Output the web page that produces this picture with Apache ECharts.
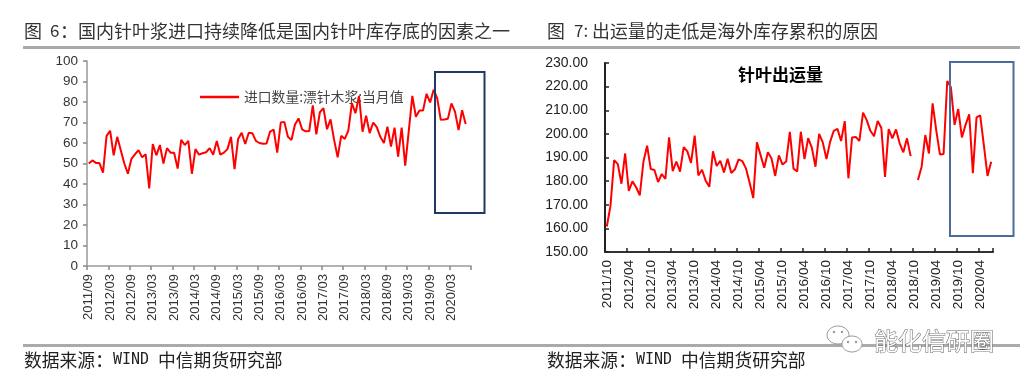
<!DOCTYPE html>
<html><head><meta charset="utf-8">
<style>html,body{margin:0;padding:0;background:#fff}#c{width:1031px;height:385px}</style>
<script src="https://cdn.jsdelivr.net/npm/echarts@6/dist/echarts.min.js"></script>
</head><body><div id="c"></div>
<script>
var importName = '进口数量:漂针木浆:当月值';
var shipName = '针叶出运量';
var importValues = [50,51.5,50.3,50.2,45.5,63.5,66,54,63,56.5,50,45,52.3,54.5,56.5,53,54.5,37.8,59.5,54,59,50,57.5,55.3,55.2,47.5,61.5,59,61,45,57,54.3,55,55.5,57.5,54.3,61,54.3,55.3,57,63,47.3,62,65,59.5,65,64.8,61,60,59.6,59.8,65.6,66.5,55.3,70,70.3,63,61.5,69,72,66.7,65.7,65.8,78.3,64.2,75,77,66.7,71.5,61.5,53,63.5,62,66,79.5,74.5,83,65.5,73.3,64.8,70,67.7,63,60,68,58.3,67.5,53.3,67.5,49,65.9,83,72.8,75.8,75.8,84,79.8,86,81.8,71.3,71.5,71.8,79.3,75.3,66.3,76,69.3,null];
var shipValues = [160.8,169.6,188.9,187.2,178.9,191.7,175.9,179.9,177.4,174,188.2,195,185.1,184.7,179.6,183,180.9,198.5,184.2,188.3,184,194.4,192.6,187.7,199.3,182.4,184.8,180.2,177.6,192.6,186.4,188.6,183.7,189.5,183.4,185,189.2,188.5,185.4,179.4,172.8,196.4,191,185.7,192.2,189.6,182.2,190.9,187,188.3,200.9,185.3,184.1,200.9,189.3,198.2,194.2,186.1,200,196.4,189.3,196.6,201.3,202.1,197,205.4,181.2,198.5,198.7,197,209,205.8,201.3,199,205.5,202.5,181.8,202,198.1,201.9,196,192.2,198.1,190.6,null,180.5,186.1,199.5,191.7,212.9,201.5,191.3,191.5,222.4,219.7,203.8,210.5,198.5,203.8,208.3,183.4,207,207.8,195.2,182.2,188.2];
function months(y, m, n) {
  var out = [];
  for (var i = 0; i < n; i++) {
    out.push(y + '/' + (m < 10 ? '0' : '') + m);
    m++; if (m > 12) { m = 1; y++; }
  }
  return out;
}
var importMonths = months(2011, 9, importValues.length);
var shipMonths = months(2011, 10, shipValues.length);

var sans = '"Noto Sans CJK SC"';
var latin = '"Liberation Sans"';
function txt(x, y, s, size, color, extra) {
  return Object.assign({type:'text', x:x, y:y, silent:true, z:5,
    style:{text:s, font:size+'px '+sans, fill:color, textVerticalAlign:'middle'}}, extra||{});
}
function foot(x) {
  return {type:'text', x:x, y:360, silent:true, z:5, style:{
    text:'{a|数据来源\uFF1A}{b|WIND }{a|中信期货研究部}', textVerticalAlign:'middle',
    rich:{a:{font:'17.8px '+sans, fill:'#222'}, b:{font:'15px "DejaVu Sans Mono"', fill:'#222'}}
  }};
}
function rule(y) {
  return {type:'line', silent:true, shape:{x1:23,y1:y,x2:1020,y2:y}, style:{stroke:'#aaaaaa', lineWidth:3}};
}
function box(x1,y1,x2,y2,c) {
  return {type:'rect', silent:true, z:6, shape:{x:x1,y:y1,width:x2-x1,height:y2-y1},
    style:{fill:'none', stroke:c, lineWidth:2}};
}
function wechat(cx,cy,rx,ry) {
  return {type:'ellipse', silent:true, z:7, shape:{cx:cx,cy:cy,rx:rx,ry:ry},
    style:{fill:'#fff', stroke:'#999', lineWidth:1}};
}
function dot(cx,cy) {
  return {type:'circle', silent:true, z:8, shape:{cx:cx,cy:cy,r:1.2}, style:{fill:'#999'}};
}

var chart = echarts.init(document.getElementById('c'));
chart.setOption({
  animation:false,
  backgroundColor:'#fff',
  title:[{text:shipName, left:738, top:66, padding:0, textStyle:{fontFamily:sans, fontSize:17, fontWeight:'bold', color:'#000'}}],
  legend:{data:[{name:importName, icon:'rect'}], left:200, top:90, padding:0, itemWidth:39, itemHeight:2.5, itemGap:2,
    textStyle:{fontFamily:sans, fontSize:13.8, color:'#444', padding:0}},
  grid:[
    {left:87, width:384, top:61, height:205, containLabel:false},
    {left:605, width:388, top:63, height:189, containLabel:false}
  ],
  xAxis:[
    {type:'category', gridIndex:0, data:importMonths, boundaryGap:true,
     axisLine:{lineStyle:{color:'#999', width:1.5}},
     axisTick:{show:true, interval:5, length:4, lineStyle:{color:'#888', width:1.5}},
     axisLabel:{interval:5, rotate:90, margin:8, fontFamily:latin, fontSize:13, color:'#333'}},
    {type:'category', gridIndex:1, data:shipMonths, boundaryGap:true,
     axisLine:{lineStyle:{color:'#333', width:2}},
     axisTick:{show:true, interval:5, inside:true, length:4, lineStyle:{color:'#222', width:1.5}},
     axisLabel:{interval:5, rotate:90, margin:8, fontFamily:latin, fontSize:13.6, color:'#222'}}
  ],
  yAxis:[
    {type:'value', gridIndex:0, min:0, max:100, interval:10, splitLine:{show:false},
     axisLine:{show:true, lineStyle:{color:'#999', width:1.5}},
     axisTick:{show:true, length:4, lineStyle:{color:'#888', width:1.5}},
     axisLabel:{margin:9, fontFamily:latin, fontSize:13.5, color:'#333'}},
    {type:'value', gridIndex:1, min:150, max:230, interval:10, splitLine:{show:false},
     axisLine:{show:true, lineStyle:{color:'#222', width:2}},
     axisTick:{show:true, inside:true, length:4, lineStyle:{color:'#222', width:1.5}},
     axisLabel:{margin:17, fontFamily:latin, fontSize:14, color:'#222', formatter:function(v){return v.toFixed(2);}}}
  ],
  series:[
    {name:importName, type:'line', xAxisIndex:0, yAxisIndex:0, data:importValues, showSymbol:false, symbol:'none',
     lineStyle:{color:'#ff0000', width:2}, itemStyle:{color:'#ff0000'}},
    {name:shipName, type:'line', xAxisIndex:1, yAxisIndex:1, data:shipValues, showSymbol:false, symbol:'none', connectNulls:false,
     lineStyle:{color:'#ff0000', width:2}, itemStyle:{color:'#ff0000'}}
  ],
  graphic:[
    rule(47.5), rule(345.5),
    txt(24, 31, '图', 18, '#333'),
    txt(50, 31, '6', 17, '#333'),
    txt(60, 31, '\uFF1A', 18, '#333'),
    txt(78, 31, '国内针叶浆进口持续降低是国内针叶库存底的因素之一', 18, '#333'),
    txt(547, 31, '图', 17.9, '#333'),
    txt(574, 31, '7:', 17, '#333'),
    txt(592, 31, '出运量的走低是海外库存累积的原因', 17.9, '#333'),
    foot(24), foot(547),
    box(435, 72, 484.5, 213, '#1f3864'),
    box(950, 62, 1013.5, 236, '#4a6c9c'),
    wechat(838, 335, 11, 9), dot(834, 332), dot(842, 332),
    wechat(852, 344, 10, 8), dot(848, 342), dot(856, 342),
    {type:'text', x:874, y:341, silent:true, z:7, style:{text:'能化信研圈', font:'24px '+sans,
      fill:'#fff', stroke:'#666', lineWidth:1, textVerticalAlign:'middle'}}
  ]
});
</script></body></html>
